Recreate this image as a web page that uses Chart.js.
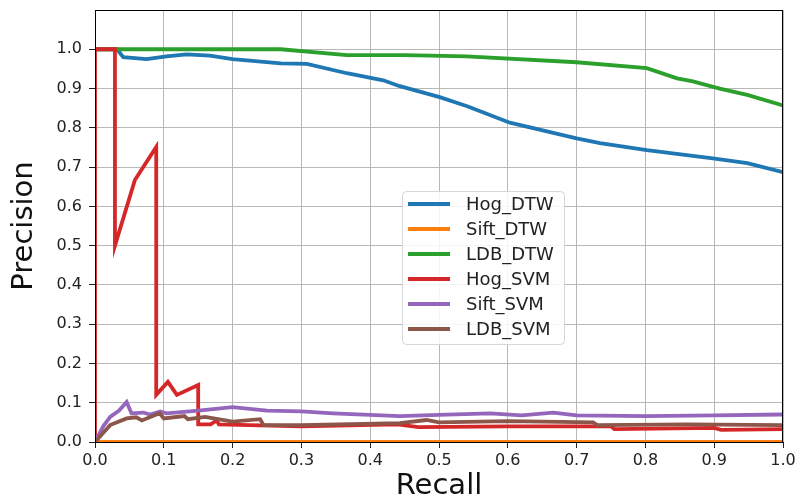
<!DOCTYPE html>
<html>
<head>
<meta charset="utf-8">
<script src="https://cdn.jsdelivr.net/npm/chart.js@4/dist/chart.umd.min.js"></script>
<style>
  html, body { margin: 0; padding: 0; background: #fff; }
  #wrap { width: 801px; height: 504px; position: relative; }
</style>
</head>
<body>
<div id="wrap"><canvas id="pr"></canvas></div>
<script>
// Precision / recall curves
const seriesNames = ['Hog_DTW', 'Sift_DTW', 'LDB_DTW', 'Hog_SVM', 'Sift_SVM', 'LDB_SVM'];
const seriesColors = ['#1f77b4', '#ff7f0e', '#2ca02c', '#d62728', '#9467bd', '#8c564b'];
const xTicks = [0, 0.1, 0.2, 0.3, 0.4, 0.5, 0.6, 0.7, 0.8, 0.9, 1.0];
const yTicks = [0, 0.1, 0.2, 0.3, 0.4, 0.5, 0.6, 0.7, 0.8, 0.9, 1.0];

// [recall, precision]
const hogDtw = [[0, 1], [0.032, 1], [0.041, 0.98], [0.075, 0.975], [0.104, 0.982], [0.133, 0.987],
  [0.167, 0.984], [0.2, 0.975], [0.27, 0.964], [0.308, 0.963], [0.366, 0.939], [0.419, 0.921],
  [0.443, 0.906], [0.501, 0.878], [0.541, 0.855], [0.603, 0.813], [0.70, 0.773], [0.734, 0.761],
  [0.802, 0.743], [0.898, 0.722], [0.948, 0.71], [1.0, 0.687]];
const siftDtw = [[0, 0], [1.0, 0]];
const ldbDtw = [[0, 1], [0.27, 1], [0.366, 0.985], [0.45, 0.985], [0.54, 0.982], [0.70, 0.967],
  [0.802, 0.952], [0.846, 0.926], [0.869, 0.918], [0.908, 0.9], [0.948, 0.884], [1.0, 0.857]];
const hogSvm = [[0, 0], [0, 1], [0.029, 1], [0.029, 0.5], [0.058, 0.667], [0.089, 0.751],
  [0.089, 0.12], [0.106, 0.153], [0.119, 0.12], [0.15, 0.145], [0.15, 0.045], [0.168, 0.045],
  [0.177, 0.055], [0.18, 0.045], [0.3, 0.04], [0.44, 0.045], [0.47, 0.038], [0.6, 0.04],
  [0.75, 0.04], [0.755, 0.033], [0.9, 0.036], [0.91, 0.031], [1.0, 0.033]];
const siftSvm = [[0, 0], [0.012, 0.04], [0.022, 0.064], [0.035, 0.08], [0.046, 0.102], [0.053, 0.073],
  [0.07, 0.075], [0.08, 0.07], [0.095, 0.078], [0.104, 0.073], [0.15, 0.08], [0.2, 0.089],
  [0.25, 0.08], [0.3, 0.078], [0.346, 0.073], [0.443, 0.066], [0.5, 0.069], [0.574, 0.073],
  [0.62, 0.068], [0.666, 0.075], [0.7, 0.068], [0.8, 0.066], [0.9, 0.068], [1.0, 0.07]];
const ldbSvm = [[0, 0], [0.022, 0.043], [0.046, 0.06], [0.06, 0.063], [0.068, 0.055], [0.094, 0.073],
  [0.1, 0.06], [0.13, 0.066], [0.135, 0.058], [0.16, 0.064], [0.2, 0.052], [0.24, 0.058],
  [0.245, 0.043], [0.3, 0.043], [0.443, 0.048], [0.482, 0.056], [0.5, 0.05], [0.6, 0.053],
  [0.724, 0.05], [0.73, 0.043], [0.86, 0.045], [1.0, 0.043]];

const seriesData = [hogDtw, siftDtw, ldbDtw, hogSvm, siftSvm, ldbSvm];

const FONT = '"DejaVu Sans", sans-serif';

// legend inside plot + black frame, like matplotlib
const frameLegend = {
  id: 'frameLegend',
  afterDatasetsDraw(chart) {
    const { ctx, chartArea: a } = chart;
    ctx.save();
    ctx.strokeStyle = '#000';
    ctx.lineWidth = 1;
    ctx.strokeRect(a.left + 0.5, a.top + 0.5, a.right - a.left - 1, a.bottom - a.top);

    const bx = 402, by = 191, bw = 162, bh = 153;
    ctx.fillStyle = 'rgba(255,255,255,0.85)';
    ctx.strokeStyle = '#d6d6d6';
    ctx.beginPath();
    ctx.roundRect(bx + 0.5, by + 0.5, bw, bh, 4);
    ctx.fill();
    ctx.stroke();
    ctx.font = '18px ' + FONT;
    ctx.textBaseline = 'middle';
    chart.data.datasets.forEach((ds, i) => {
      const y = by + 13 + i * 25;
      ctx.strokeStyle = ds.borderColor;
      ctx.lineWidth = 4;
      ctx.beginPath();
      ctx.moveTo(408, y);
      ctx.lineTo(450, y);
      ctx.stroke();
      ctx.fillStyle = '#222';
      ctx.fillText(ds.label, 466, y + 1);
    });
    ctx.restore();
  }
};

new Chart(document.getElementById('pr'), {
  type: 'line',
  data: {
    datasets: seriesNames.map((name, i) => ({
      label: name,
      data: seriesData[i].map(p => ({ x: p[0], y: p[1] })),
      borderColor: seriesColors[i],
      backgroundColor: seriesColors[i],
      borderWidth: 3.8,
      pointRadius: 0,
      tension: 0,
      order: seriesNames.length - i
    }))
  },
  options: {
    responsive: true,
    maintainAspectRatio: false,
    animation: false,
    layout: { padding: { top: 10, right: 18, left: 0, bottom: 0 } },
    plugins: { legend: { display: false }, tooltip: { enabled: false } },
    scales: {
      x: {
        type: 'linear', min: 0, max: 1,
        afterBuildTicks: s => { s.ticks = xTicks.map(v => ({ value: v })); },
        ticks: { color: '#222', font: { family: FONT, size: 16 }, padding: 3, maxRotation: 0,
          callback: v => v.toFixed(1) },
        grid: { color: '#b8b8b8', lineWidth: 1, tickLength: 6, tickColor: '#222' },
        border: { color: '#000' },
        title: { display: true, text: 'Recall', color: '#111', font: { family: FONT, size: 29 }, padding: { top: 3, bottom: 0 } },
        afterFit: s => { s.height = 62; }
      },
      y: {
        type: 'linear', min: 0, max: 1.1,
        afterBuildTicks: s => { s.ticks = yTicks.map(v => ({ value: v })); },
        ticks: { color: '#222', font: { family: FONT, size: 16 }, padding: 7,
          callback: v => v.toFixed(1) },
        grid: { color: '#b8b8b8', lineWidth: 1, tickLength: 6, tickColor: '#222' },
        border: { color: '#000' },
        title: { display: true, text: 'Precision', color: '#111', font: { family: FONT, size: 29 }, padding: { top: 7, bottom: 0 } },
        afterFit: s => { s.width = 95; s.paddingTop = 0; }
      }
    }
  },
  plugins: [frameLegend]
});
</script>
</body>
</html>
